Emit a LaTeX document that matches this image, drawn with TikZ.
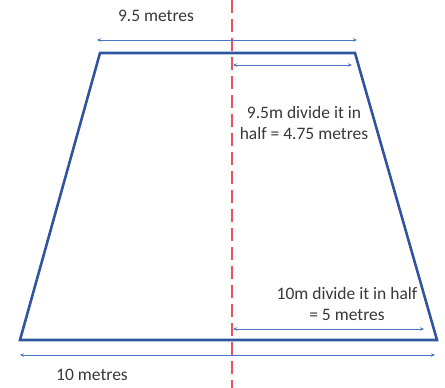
\documentclass[tikz,border=0pt]{standalone}
\usepackage{fontspec}
\setmainfont{Carlito}
\usetikzlibrary{arrows.meta}
\definecolor{trapcol}{HTML}{2F55A0}
\definecolor{arrcol}{HTML}{4A78C8}
\definecolor{redcol}{HTML}{F0505A}
\definecolor{txtcol}{HTML}{383838}
\tikzset{
  dimline/.style={draw=arrcol, line width=0.9pt, {Stealth[length=4pt,width=3.5pt]}-{Stealth[length=4pt,width=3.5pt]}},
  lbl/.style={text=txtcol, font=\fontsize{17.5}{21}\selectfont, align=center, inner sep=0pt},
}
\begin{document}
\begin{tikzpicture}[x=1pt,y=-1pt]
\useasboundingbox (0,0) rectangle (445,388);
\coordinate (tl) at (100,53);
\coordinate (tr) at (355,53);
\coordinate (br) at (437,340);
\coordinate (bl) at (20,340);
\draw[draw=trapcol, line width=2.6pt, line join=miter] (tl) -- (tr) -- (br) -- (bl) -- cycle;
\coordinate (d1) at (232,0);
\coordinate (d2) at (232,388);
\draw[draw=redcol, line width=2.6pt, dash pattern=on 13pt off 6pt] (d1) -- (d2);
\coordinate (a1) at (97,40); \coordinate (a2) at (357,40);
\draw[dimline] (a1) -- (a2);
\coordinate (b1) at (233,65); \coordinate (b2) at (352,65);
\draw[dimline] (b1) -- (b2);
\coordinate (c1) at (233,329); \coordinate (c2) at (424,329);
\draw[dimline] (c1) -- (c2);
\coordinate (e1) at (20,355); \coordinate (e2) at (435,355);
\draw[dimline] (e1) -- (e2);
\node[lbl] (t1) at (156,16) {9.5 metres};
\node[lbl] (t2) at (304,123) {9.5m divide it in\\half = 4.75 metres};
\node[lbl] (t3) at (347,304) {10m divide it in half\\= 5 metres};
\node[lbl] (t4) at (92,375) {10 metres};
\end{tikzpicture}
\end{document}
